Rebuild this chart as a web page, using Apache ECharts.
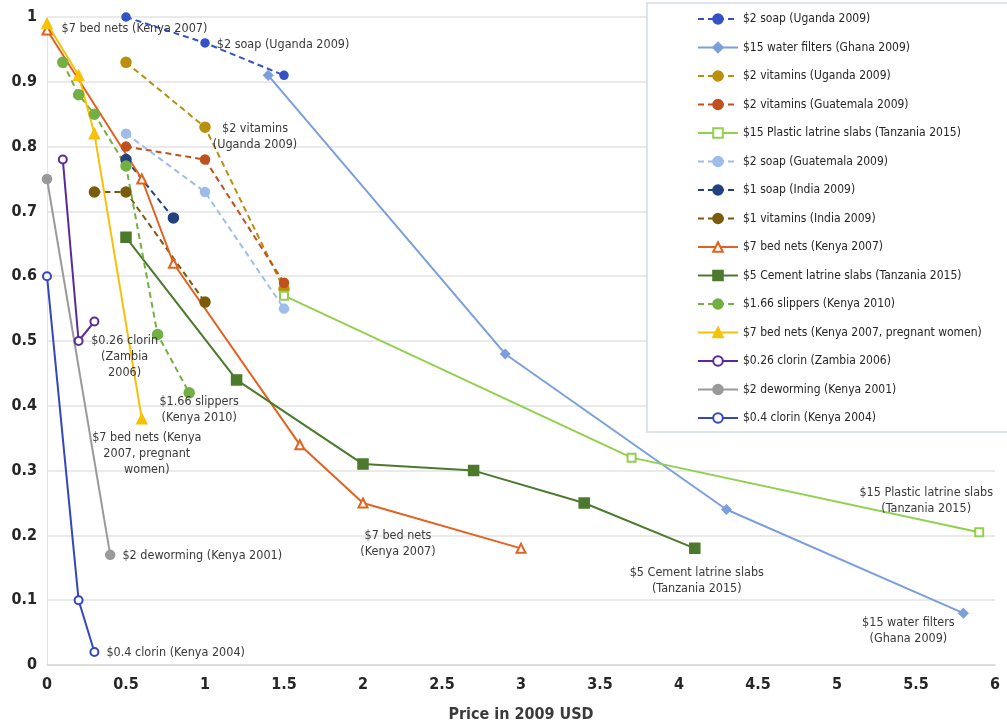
<!DOCTYPE html>
<html>
<head>
<meta charset="utf-8">
<script src="https://cdn.jsdelivr.net/npm/echarts@6/dist/echarts.min.js"></script>
<style>
  html, body { margin: 0; padding: 0; background: #ffffff; }
  #chart { width: 1007px; height: 728px; }
</style>
</head>
<body>
<div id="chart"></div>
<script>
// ---------- DATA (price in 2009 USD, take-up share) ----------
const seriesNames = [
  '$2 soap (Uganda 2009)',
  '$15 water filters (Ghana 2009)',
  '$2 vitamins (Uganda 2009)',
  '$2 vitamins (Guatemala 2009)',
  '$15 Plastic latrine slabs (Tanzania 2015)',
  '$2 soap (Guatemala 2009)',
  '$1 soap (India 2009)',
  '$1 vitamins (India 2009)',
  '$7 bed nets (Kenya 2007)',
  '$5 Cement latrine slabs (Tanzania 2015)',
  '$1.66 slippers (Kenya 2010)',
  '$7 bed nets (Kenya 2007, pregnant women)',
  '$0.26 clorin (Zambia 2006)',
  '$2 deworming (Kenya 2001)',
  '$0.4 clorin (Kenya 2004)'
];
const soapUganda        = [[0.5, 1.00], [1.0, 0.96], [1.5, 0.91]];
const waterFiltersGhana = [[1.4, 0.91], [2.9, 0.48], [4.3, 0.24], [5.8, 0.08]];
const vitaminsUganda    = [[0.5, 0.93], [1.0, 0.83], [1.5, 0.58]];
const vitaminsGuatemala = [[0.5, 0.80], [1.0, 0.78], [1.5, 0.59]];
const plasticSlabs      = [[1.5, 0.57], [3.7, 0.32], [5.9, 0.205]];
const soapGuatemala     = [[0.5, 0.82], [1.0, 0.73], [1.5, 0.55]];
const soapIndia         = [[0.5, 0.78], [0.8, 0.69]];
const vitaminsIndia     = [[0.3, 0.73], [0.5, 0.73], [1.0, 0.56]];
const bedNetsKenya      = [[0, 0.98], [0.6, 0.75], [0.8, 0.62], [1.6, 0.34], [2.0, 0.25], [3.0, 0.18]];
const cementSlabs       = [[0.5, 0.66], [1.2, 0.44], [2.0, 0.31], [2.7, 0.30], [3.4, 0.25], [4.1, 0.18]];
const slippersKenya     = [[0.1, 0.93], [0.2, 0.88], [0.3, 0.85], [0.5, 0.77], [0.7, 0.51], [0.9, 0.42]];
const bedNetsPregnant   = [[0, 0.99], [0.2, 0.91], [0.3, 0.82], [0.6, 0.38]];
const clorinZambia      = [[0.1, 0.78], [0.2, 0.50], [0.3, 0.53]];
const dewormingKenya    = [[0, 0.75], [0.4, 0.17]];
const clorinKenya       = [[0, 0.60], [0.2, 0.10], [0.3, 0.02]];
const seriesData = [soapUganda, waterFiltersGhana, vitaminsUganda, vitaminsGuatemala, plasticSlabs,
  soapGuatemala, soapIndia, vitaminsIndia, bedNetsKenya, cementSlabs, slippersKenya,
  bedNetsPregnant, clorinZambia, dewormingKenya, clorinKenya];

const xTickInterval = 0.5, xMin = 0, xMax = 6;
const yTickInterval = 0.1, yMin = 0, yMax = 1;
const xAxisTitle = 'Price in 2009 USD';

// annotation texts: [series index, point index, text]
const annotations = [
  [8, 0, '$7 bed nets (Kenya 2007)'],
  [0, 1, '$2 soap (Uganda 2009)'],
  [2, 1, '$2 vitamins\n(Uganda 2009)'],
  [12, 1, '$0.26 clorin\n(Zambia\n2006)'],
  [10, 5, '$1.66 slippers\n(Kenya 2010)'],
  [11, 3, '$7 bed nets (Kenya\n2007, pregnant\nwomen)'],
  [13, 1, '$2 deworming (Kenya 2001)'],
  [14, 2, '$0.4 clorin (Kenya 2004)'],
  [8, 4, '$7 bed nets\n(Kenya 2007)'],
  [9, 5, '$5 Cement latrine slabs\n(Tanzania 2015)'],
  [4, 2, '$15 Plastic latrine slabs\n(Tanzania 2015)'],
  [1, 3, '$15 water filters\n(Ghana 2009)']
];

// ---------- STYLE ----------
const styles = [
  { color: '#3551c6', dash: true,  symbol: 'circle', size: 8 },
  { color: '#7c9fdc', dash: false, symbol: 'diamond', size: 9 },
  { color: '#b8900c', dash: true,  symbol: 'circle', size: 10 },
  { color: '#c0511f', dash: true,  symbol: 'circle', size: 9 },
  { color: '#92d050', dash: false, symbol: 'emptyRect', size: 8 },
  { color: '#9fbde9', dash: true,  symbol: 'circle', size: 9 },
  { color: '#24417f', dash: true,  symbol: 'circle', size: 10 },
  { color: '#7a5c0c', dash: true,  symbol: 'circle', size: 10 },
  { color: '#e2621f', dash: false, symbol: 'emptyTriangle', size: 9 },
  { color: '#4c7a2c', dash: false, symbol: 'rect', size: 10 },
  { color: '#72b043', dash: true,  symbol: 'circle', size: 10 },
  { color: '#f7c10a', dash: false, symbol: 'triangle', size: 10 },
  { color: '#5a2a9c', dash: false, symbol: 'emptyCircle', size: 8 },
  { color: '#9a9a9a', dash: false, symbol: 'circle', size: 9 },
  { color: '#3347bf', dash: false, symbol: 'emptyCircle', size: 8 }
];
// label placement relative to the point: [position, offsetX, offsetY]
const labelPlace = [
  ['right', 4, -1],
  ['right', 2, 2],
  ['inside', 50, 10],
  ['inside', 46, 16],
  ['inside', 10, 17],
  ['inside', 5, 35],
  ['right', 2, 1],
  ['right', 2, 1],
  ['inside', 35, 41],
  ['inside', 2, 32],
  ['inside', -53, -31],
  ['inside', -55, 18]
];

const FONT = '"DejaVu Sans Condensed", Lato, sans-serif';

const series = seriesData.map((pts, si) => {
  const st = styles[si];
  const data = pts.map((p, pi) => {
    const item = { value: p };
    annotations.forEach((a, ai) => {
      if (a[0] === si && a[1] === pi) {
        const lp = labelPlace[ai];
        item.label = {
          show: true,
          formatter: a[2],
          position: lp[0],
          offset: [lp[1], lp[2]],
          align: lp[0] === 'inside' ? 'center' : 'left',
          verticalAlign: 'middle',
          color: '#3a3a3a',
          fontFamily: FONT,
          fontSize: 12.5,
          lineHeight: 16
        };
      }
    });
    return item;
  });
  return {
    name: seriesNames[si],
    type: 'line',
    data: data,
    symbol: st.symbol,
    symbolSize: st.size,
    showAllSymbol: true,
    animation: false,
    lineStyle: { color: st.color, width: 2, type: st.dash ? [6, 4] : 'solid' },
    itemStyle: { color: st.color, borderColor: st.color, borderWidth: 1.5 },
    emphasis: { disabled: true },
    z: 2
  };
});

const chart = echarts.init(document.getElementById('chart'), null, { renderer: 'canvas' });
chart.setOption({
  backgroundColor: '#ffffff',
  animation: false,
  grid: { left: 47, right: 12, top: 17, bottom: 58 },
  xAxis: {
    type: 'value',
    min: xMin, max: xMax, interval: xTickInterval,
    name: xAxisTitle,
    nameLocation: 'middle',
    nameGap: 42,
    nameTextStyle: { fontFamily: FONT, fontSize: 16, color: '#3a3a3a', fontWeight: 'bold' },
    axisLine: { show: true, lineStyle: { color: '#d9d9d9', width: 1.5 } },
    axisTick: { show: false },
    splitLine: { show: false },
    axisLabel: { margin: 12, fontFamily: FONT, fontSize: 16, fontWeight: 'bold', color: '#262626' }
  },
  yAxis: {
    type: 'value',
    min: yMin, max: yMax, interval: yTickInterval,
    axisLine: { show: true, lineStyle: { color: '#e3e3e3', width: 1 } },
    axisTick: { show: false },
    splitLine: { show: true, lineStyle: { color: '#e3e3e3', width: 1.5 } },
    axisLabel: { margin: 10, fontFamily: FONT, fontSize: 16, fontWeight: 'bold', color: '#262626' }
  },
  legend: {
    orient: 'vertical',
    left: 647,
    top: 3,
    padding: [10, 60, 8, 50],
    borderColor: '#d4dbe9',
    borderWidth: 1.5,
    backgroundColor: '#ffffff',
    itemWidth: 40,
    itemHeight: 12,
    itemGap: 16.5,
    textStyle: { fontFamily: FONT, fontSize: 12, color: '#262626', lineHeight: 12 },
    data: seriesNames
  },
  series: series
});
</script>
</body>
</html>
